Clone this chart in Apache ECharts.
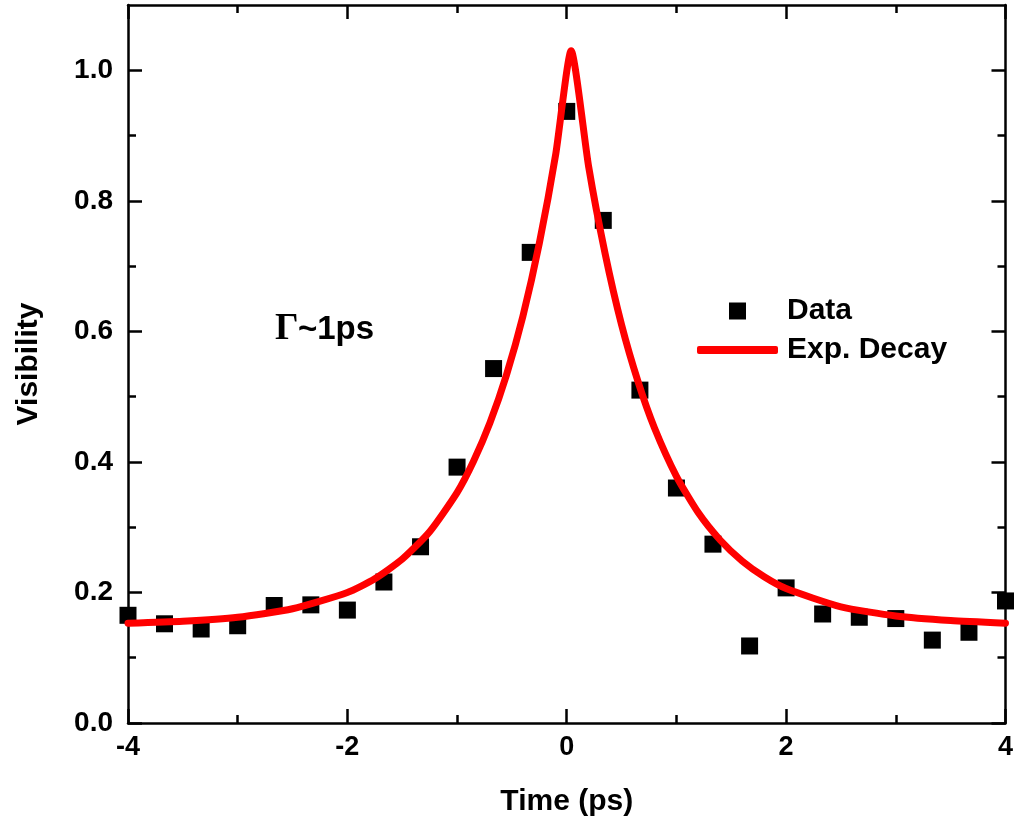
<!DOCTYPE html>
<html>
<head>
<meta charset="utf-8">
<script src="https://cdn.jsdelivr.net/npm/echarts@6/dist/echarts.min.js"></script>
<style>
html,body{margin:0;padding:0;background:#fff;}
#chart{width:1016px;height:824px;}
</style>
</head>
<body>
<div id="chart"></div>
<script>
// Measured data points (time in ps, visibility)
const dataTime = [-4, -3.667, -3.333, -3, -2.667, -2.333, -2, -1.667, -1.333, -1, -0.667, -0.333, 0,
  0.333, 0.667, 1, 1.333, 1.667, 2, 2.333, 2.667, 3, 3.333, 3.667, 4];
const dataVis = [0.165, 0.152, 0.144, 0.149, 0.180, 0.181, 0.173, 0.216, 0.270, 0.392, 0.543, 0.721, 0.937,
  0.770, 0.510, 0.360, 0.274, 0.118, 0.207, 0.167, 0.162, 0.160, 0.127, 0.139, 0.187];

// Fit curve (Exp. Decay)
const fitTime = [-4, -3.5, -3, -2.5, -2, -1.75, -1.5, -1.25, -1, -0.85, -0.7, -0.55, -0.4, -0.25, -0.1, 0.04,
  0.2, 0.35, 0.5, 0.65, 0.8, 1.0, 1.2, 1.4, 1.6, 1.8, 2.0, 2.5, 3.0, 3.5, 4.0];
const fitVis = [0.153, 0.156, 0.162, 0.175, 0.200, 0.221, 0.251, 0.293, 0.353, 0.401, 0.460, 0.533, 0.623, 0.735, 0.872, 1.03,
  0.852, 0.719, 0.610, 0.523, 0.452, 0.378, 0.322, 0.280, 0.248, 0.224, 0.206, 0.178, 0.164, 0.157, 0.153];

// Tick values
const xMin = -4, xMax = 4, xStep = 2;
const yMin = 0, yMax = 1.1;
const yMajorTicks = [0, 0.2, 0.4, 0.6, 0.8, 1.0];
const yMinorTicks = [0.1, 0.3, 0.5, 0.7, 0.9];

const seriesNames = ['Data', 'Exp. Decay'];
const annotation = 'Γ~1ps';
const xName = 'Time (ps)';
const yName = 'Visibility';

const FONT = "'Liberation Sans', Arial, sans-serif";
const black = '#000';

const chart = echarts.init(document.getElementById('chart'), null, {renderer: 'canvas'});

function xAxisCfg(pos, labels) {
  return {
    type: 'value', position: pos, min: xMin, max: xMax, interval: xStep,
    name: labels ? xName : '', nameLocation: 'middle', nameGap: 64,
    nameTextStyle: {fontFamily: FONT, fontWeight: 'bold', fontSize: 30, color: black},
    axisLine: {show: true, onZero: false, lineStyle: {color: black, width: 2.5}},
    axisTick: {show: true, inside: true, length: 14, lineStyle: {color: black, width: 2.5}},
    minorTick: {show: true, splitNumber: 2, length: 8, lineStyle: {color: black, width: 2.5}},
    axisLabel: {show: labels, margin: 11, fontFamily: FONT, fontWeight: 'bold', fontSize: 27, color: black},
    splitLine: {show: false}, minorSplitLine: {show: false}
  };
}
function yAxisCfg(pos, labels, ticks, len, line) {
  return {
    type: 'value', position: pos, min: yMin, max: yMax,
    name: labels ? yName : '', nameLocation: 'middle', nameGap: 84, nameRotate: 90,
    nameTextStyle: {fontFamily: FONT, fontWeight: 'bold', fontSize: 30, color: black},
    axisLine: {show: line, onZero: false, lineStyle: {color: black, width: 2.5}},
    axisTick: {show: true, inside: true, length: len, customValues: ticks, lineStyle: {color: black, width: 2.5}},
    minorTick: {show: false},
    axisLabel: {show: labels, margin: 15, customValues: yMajorTicks, formatter: v => v.toFixed(1),
      fontFamily: FONT, fontWeight: 'bold', fontSize: 28, color: black},
    splitLine: {show: false}
  };
}

const option = {
  backgroundColor: '#fff',
  animation: false,
  grid: {left: 128, right: 8, top: 5, bottom: 101, containLabel: false},
  xAxis: [xAxisCfg('bottom', true), xAxisCfg('top', false)],
  yAxis: [
    yAxisCfg('left', true, yMajorTicks, 14, true),
    yAxisCfg('left', false, yMinorTicks, 8, false),
    yAxisCfg('right', false, yMajorTicks, 14, true),
    yAxisCfg('right', false, yMinorTicks, 8, false)
  ],
  legend: [
    {data: [seriesNames[0]], left: 729, top: 296, padding: 0, icon: 'rect', itemWidth: 17, itemHeight: 17,
      textStyle: {fontFamily: FONT, fontWeight: 'bold', fontSize: 30, color: black, padding: [0, 0, 0, 36]}},
    {data: [seriesNames[1]], left: 697, top: 335, padding: 0, icon: 'roundRect', itemWidth: 81, itemHeight: 8,
      textStyle: {fontFamily: FONT, fontWeight: 'bold', fontSize: 30, color: black, padding: [0, 0, 0, 4]}}
  ],
  graphic: [
    {type: 'text', left: 275, top: 311, style: {text: annotation.slice(0, 1), font: "bold 37px 'Liberation Serif', 'Times New Roman', serif", fill: black}},
    {type: 'text', left: 298, top: 313, style: {text: annotation.slice(1), font: "bold 33px " + FONT, fill: black}}
  ],
  series: [
    {
      name: seriesNames[0], type: 'scatter', xAxisIndex: 0, yAxisIndex: 0,
      symbol: 'rect', symbolSize: 17, z: 2,
      itemStyle: {color: black, opacity: 1},
      data: dataTime.map((t, i) => [t, dataVis[i]])
    },
    {
      name: seriesNames[1], type: 'line', xAxisIndex: 0, yAxisIndex: 0,
      showSymbol: false, symbol: 'none', smooth: 0.2, z: 3, clip: true,
      itemStyle: {color: '#ff0000'},
      lineStyle: {color: '#ff0000', width: 7, cap: 'round', join: 'round'},
      data: fitTime.map((t, i) => [t, fitVis[i]])
    }
  ]
};
chart.setOption(option);
</script>
</body>
</html>
